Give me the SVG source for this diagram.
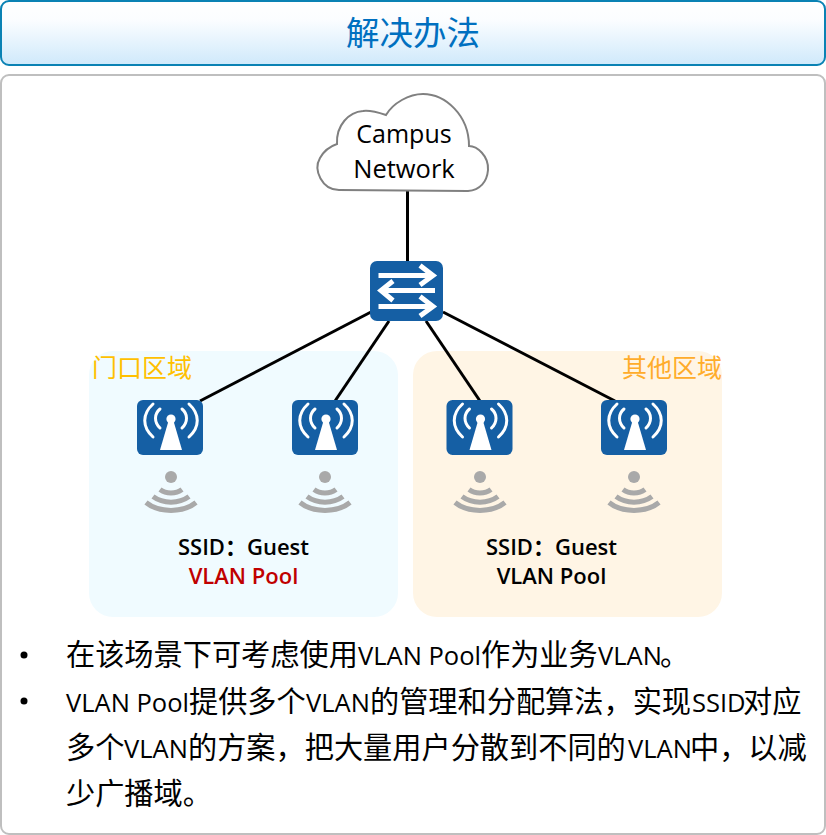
<svg xmlns="http://www.w3.org/2000/svg" width="826" height="835" viewBox="0 0 826 835">
<defs>
<linearGradient id="hd" x1="0" y1="0" x2="0" y2="1"><stop offset="0" stop-color="#ffffff"/><stop offset="0.3" stop-color="#fbfdff"/><stop offset="1" stop-color="#cfe9fb"/></linearGradient>
<symbol id="ap" viewBox="0 0 66 55" overflow="visible">
<rect width="66" height="55" rx="6" fill="#155fa4"/>
<g fill="none" stroke="#fff" stroke-width="3" stroke-linecap="round">
<path d="M16 37C5 27 5 14 16 4"/><path d="M52 37C63 27 63 14 52 4"/>
<path d="M23 28C17 22 17 14 23 9"/><path d="M45 28C51 22 51 14 45 9"/>
</g>
<circle cx="34" cy="19" r="4.600" fill="#fff"/>
<path d="M31.500 21H36.500L45 50H23Z" fill="#fff"/>
</symbol>
<symbol id="wifi" viewBox="0 0 52 44" overflow="visible">
<circle cx="26" cy="6" r="6" fill="#a9a9a9"/>
<g fill="none" stroke="#a9a9a9" stroke-width="5">
<path d="M15 18.500C21 23 31 23 37 18.500"/>
<path d="M8 25.500C18 33 34 33 44 25.500"/>
<path d="M1 31.500C14 42 38 42 51 31.500"/>
</g>
</symbol>
</defs>
<style>
.cjk{font-family:"Noto Sans CJK SC",sans-serif}
.lat{font-family:"Open Sans","Noto Sans CJK SC",sans-serif}
.body{font-size:29.200px;fill:#000}
.blat{font-size:25.500px;fill:#000;font-family:"Open Sans","Noto Sans CJK SC",sans-serif}
.b{font-family:"Open Sans","Noto Sans CJK SC",sans-serif;font-weight:600;font-size:22px;text-anchor:middle;fill:#000}
.zone{font-size:25px;font-family:"Noto Sans CJK SC",sans-serif}
.con{stroke:#000;stroke-width:3;fill:none}
</style>
<g id="header">
<rect x="1" y="1" width="824" height="64" rx="8" fill="url(#hd)" stroke="#0a82b4" stroke-width="2"/>
<text x="413" y="45" text-anchor="middle" font-size="33.500" fill="#0070c0" class="cjk">解决办法</text>
</g>
<rect id="panel" x="1" y="75" width="824" height="759" rx="8" fill="#fff" stroke="#bfbfbf" stroke-width="2"/>
<rect id="zone-left" x="89" y="351" width="309" height="266" rx="24" fill="#f0fbff"/>
<rect id="zone-right" x="413" y="351" width="309" height="266" rx="24" fill="#fff5e5"/>
<g id="connectors">
<path class="con" d="M407.500 190V262"/>
<path class="con" d="M371 312L200 401"/>
<path class="con" d="M389 321L335 401"/>
<path class="con" d="M426 321L480 401"/>
<path class="con" d="M443 312L615 401"/>
</g>
<g id="cloud">
<path d="M339 190C322 190 313 170 320 158C325 149 331 146 337 144C336 125 349 112 363 111C370 110 377 112 386 115C393 103 409 94 423 94C445 94 469 115 469 146C477 146 489 156 488 170C487 182 480 190 468 191Z" fill="#fff" stroke="#808080" stroke-width="2"/>
<text x="404" y="143" text-anchor="middle" font-size="25" class="lat" fill="#000">Campus</text>
<text x="404" y="178" text-anchor="middle" font-size="25.500" class="lat" fill="#000">Network</text>
</g>
<g id="switch">
<rect x="370" y="261" width="73" height="60" rx="7" fill="#155fa4"/>
<g fill="none" stroke="#fff" stroke-width="5">
<path d="M378.500 275.500H431"/><path d="M420 265.500L433 275.500L420 285"/>
<path d="M435 290.500H382"/><path d="M393 281L381 290.500L393 300.500"/>
<path d="M378.500 306.500H431"/><path d="M420 296.500L433 306.500L420 316"/>
</g>
</g>
<g id="ap1"><use href="#ap" x="137" y="400" width="66" height="55"/><use href="#wifi" x="145" y="471" width="52" height="44"/></g>
<g id="ap2"><use href="#ap" x="292" y="400" width="66" height="55"/><use href="#wifi" x="299" y="471" width="52" height="44"/></g>
<g id="ap3"><use href="#ap" x="446" y="400" width="67" height="55"/><use href="#wifi" x="454" y="471" width="52" height="44"/></g>
<g id="ap4"><use href="#ap" x="601" y="400" width="66" height="55"/><use href="#wifi" x="608" y="471" width="52" height="44"/></g>
<text x="92" y="377" class="zone" fill="#ffc000">门口区域</text>
<text x="622" y="377" class="zone" fill="#ffac2a">其他区域</text>
<text x="243.500" y="555" class="b">SSID：Guest</text>
<text x="243.500" y="584" class="b" style="fill:#c00000">VLAN Pool</text>
<text x="551.500" y="555" class="b">SSID：Guest</text>
<text x="551.500" y="584" class="b">VLAN Pool</text>
<g id="bullets">
<circle cx="24" cy="655" r="3.500" fill="#000"/><circle cx="24" cy="701" r="3.500" fill="#000"/>
<text y="665" class="body cjk"><tspan x="66">在该场景下可考虑使用</tspan><tspan x="358" class="blat">VLAN Pool</tspan><tspan x="481">作为业务</tspan><tspan x="598" class="blat">VLAN</tspan><tspan x="660">。</tspan></text>
<text y="712" class="body cjk"><tspan x="66" class="blat">VLAN Pool</tspan><tspan x="189">提供多个</tspan><tspan x="306" class="blat">VLAN</tspan><tspan x="370">的管理和分配算法，实现</tspan><tspan x="692" class="blat">SSID</tspan><tspan x="743">对应</tspan></text>
<text y="758" class="body cjk"><tspan x="66">多个</tspan><tspan x="124" class="blat">VLAN</tspan><tspan x="188">的方案，把大量用户分散到不同的</tspan><tspan x="628" class="blat">VLAN</tspan><tspan x="690">中，以减</tspan></text>
<text y="804" class="body cjk"><tspan x="66">少广播域。</tspan></text>
</g>
</svg>
